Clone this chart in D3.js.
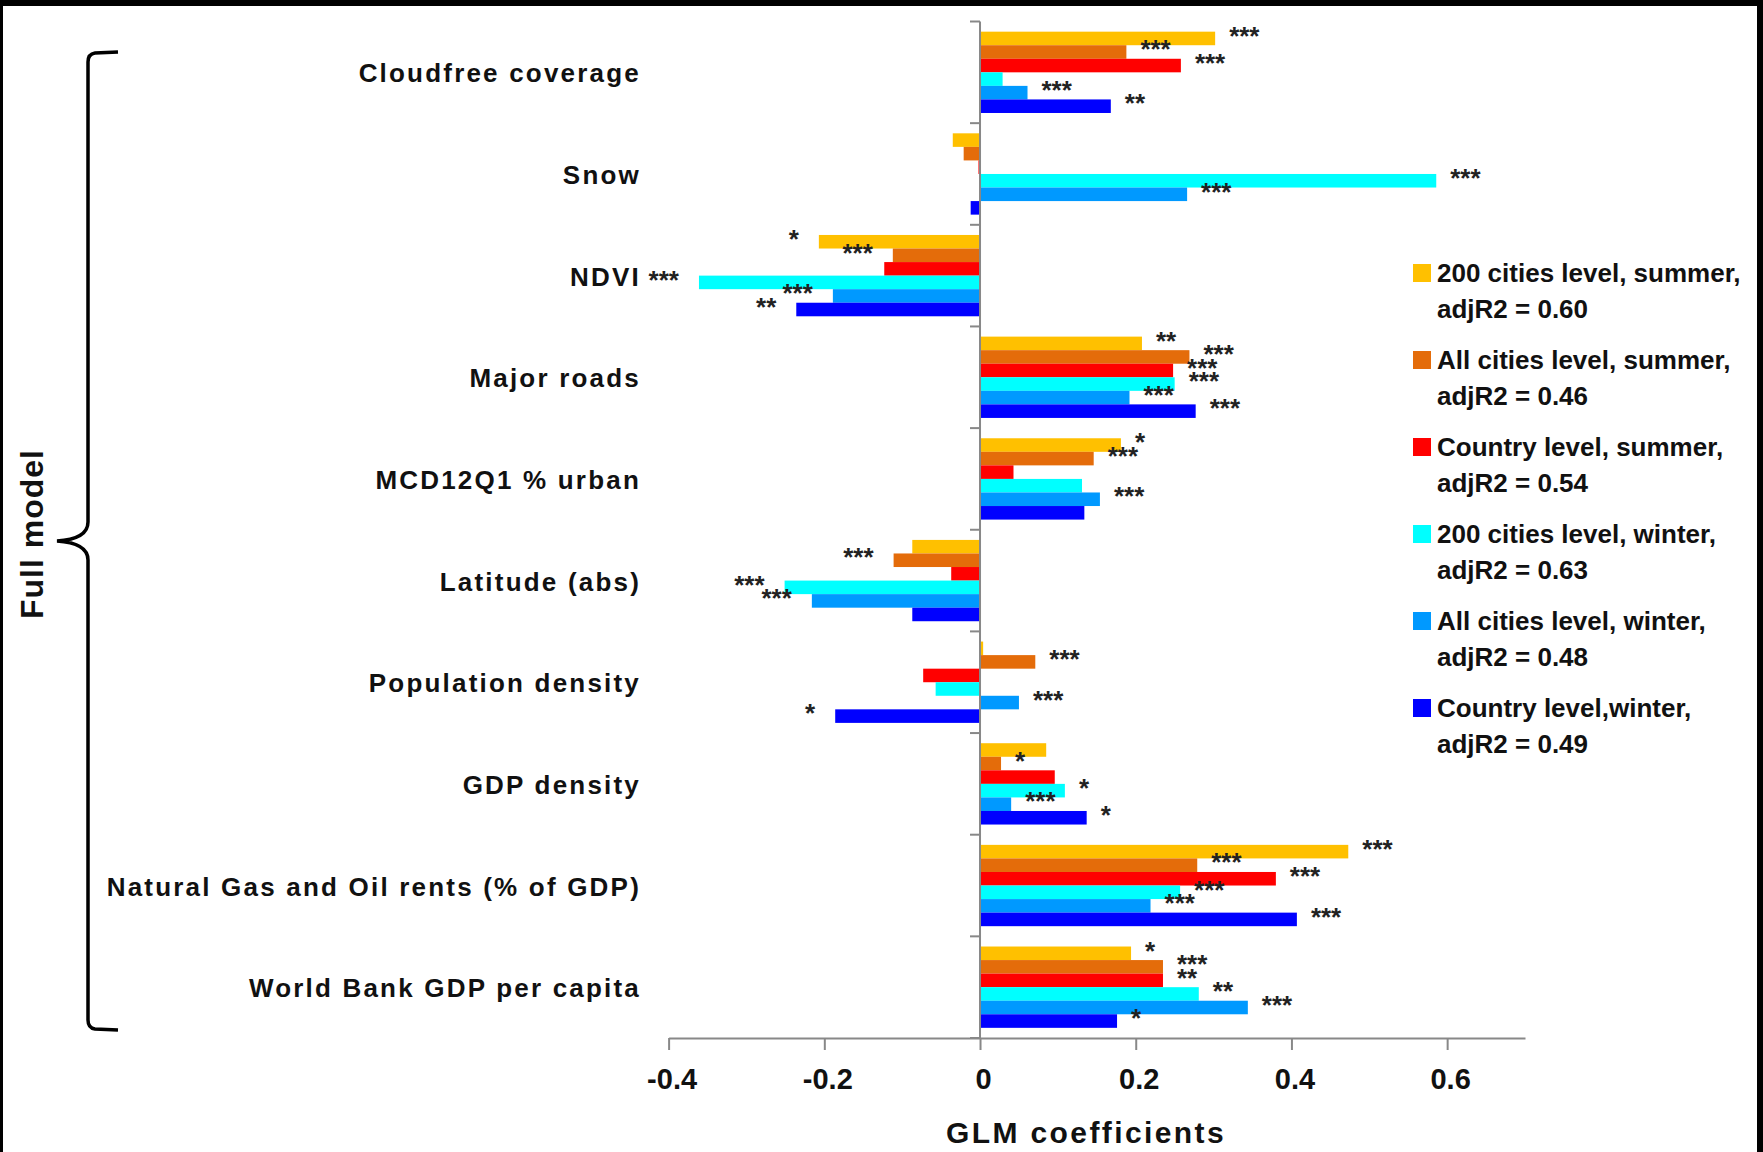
<!DOCTYPE html>
<html>
<head>
<meta charset="utf-8">
<script src="https://cdn.jsdelivr.net/npm/d3@7"></script>
<style>
  html, body { margin: 0; padding: 0; background: #000; }
  svg { display: block; }
  text { font-family: "Liberation Sans", Arial, sans-serif; font-weight: bold; fill: #111; }
</style>
</head>
<body>
<div id="chart"></div>
<script>
// categories, top to bottom
var categories = ["Cloudfree coverage", "Snow", "NDVI", "Major roads", "MCD12Q1 % urban",
  "Latitude (abs)", "Population density", "GDP density",
  "Natural Gas and Oil rents (% of GDP)", "World Bank GDP per capita"];

// GLM coefficients per model (same order as categories)
var cities200Summer = [0.302, -0.035, -0.207, 0.208, 0.181, -0.087, 0.004, 0.085, 0.473, 0.194];
var allCitiesSummer = [0.188, -0.021, -0.112, 0.269, 0.146, -0.111, 0.071, 0.027, 0.279, 0.235];
var countrySummer   = [0.258, -0.002, -0.123, 0.248, 0.043, -0.037, -0.073, 0.096, 0.380, 0.235];
var cities200Winter = [0.029, 0.586, -0.361, 0.250, 0.131, -0.251, -0.057, 0.109, 0.257, 0.281];
var allCitiesWinter = [0.061, 0.266, -0.189, 0.192, 0.154, -0.216, 0.050, 0.040, 0.219, 0.344];
var countryWinter   = [0.168, -0.012, -0.236, 0.277, 0.134, -0.087, -0.186, 0.137, 0.407, 0.176];

// significance stars
var sig200Summer     = ["***", "", "*", "**", "*", "", "", "", "***", "*"];
var sigAllSummer     = ["***", "", "***", "***", "***", "***", "***", "*", "***", "***"];
var sigCountrySummer = ["***", "", "", "***", "", "", "", "", "***", "**"];
var sig200Winter     = ["", "***", "***", "***", "", "***", "", "*", "***", "**"];
var sigAllWinter     = ["***", "***", "***", "***", "***", "***", "***", "***", "***", "***"];
var sigCountryWinter = ["**", "", "**", "***", "", "", "*", "*", "***", "*"];

var seriesKeys = ["200s", "alls", "cs", "200w", "allw", "cw"];
var legendLine1 = ["200 cities level, summer,", "All cities level, summer,", "Country level, summer,",
  "200 cities level, winter,", "All cities level, winter,", "Country level,winter,"];
var legendLine2 = ["adjR2 = 0.60", "adjR2 = 0.46", "adjR2 = 0.54", "adjR2 = 0.63", "adjR2 = 0.48", "adjR2 = 0.49"];
var colors = ["#FFC000", "#E46C0A", "#FF0000", "#00FFFF", "#0099FF", "#0000FF"];
var xTicks = [-0.4, -0.2, 0, 0.2, 0.4, 0.6];

var values = [cities200Summer, allCitiesSummer, countrySummer, cities200Winter, allCitiesWinter, countryWinter];
var sigs = [sig200Summer, sigAllSummer, sigCountrySummer, sig200Winter, sigAllWinter, sigCountryWinter];

var data = [];
categories.forEach(function(c, i) {
  seriesKeys.forEach(function(k, j) {
    data.push({cat: c, key: k, s: j, value: values[j][i], sig: sigs[j][i]});
  });
});

var W = 1763, H = 1152;
var svg = d3.select("#chart").append("svg").attr("width", W).attr("height", H);

// frame: black edges (top / right / left) around white page
svg.append("rect").attr("x", 0).attr("y", 0).attr("width", W).attr("height", H).attr("fill", "#000");
svg.append("rect").attr("x", 3).attr("y", 6).attr("width", 1754).attr("height", H - 6).attr("fill", "#fff");

var x = d3.scaleLinear().domain([-0.4, 0.7]).range([668.6, 1525]);
var y = d3.scaleBand().domain(categories).range([21.5, 1038]).padding(0);
var step = y.step();
var y1 = d3.scaleBand().domain(seriesKeys).range([step * 0.1, step * 0.9]).padding(0);

var x0 = x(0), axisY = y.range()[1];

// bars
svg.append("g").selectAll("rect")
  .data(data)
  .enter().append("rect")
  .attr("x", function(d) { return Math.min(x(d.value), x0); })
  .attr("y", function(d) { return y(d.cat) + y1(d.key); })
  .attr("width", function(d) { return Math.abs(x(d.value) - x0); })
  .attr("height", y1.bandwidth())
  .attr("fill", function(d) { return colors[d.s]; });

// star labels (centered on the top edge of their bar)
svg.append("g").selectAll("text")
  .data(data.filter(function(d) { return d.sig != ""; }))
  .enter().append("text")
  .attr("x", function(d) { return d.value >= 0 ? x(d.value) + 14 : x(d.value) - 20; })
  .attr("y", function(d) { return y(d.cat) + y1(d.key) + 13; })
  .attr("text-anchor", function(d) { return d.value >= 0 ? "start" : "end"; })
  .style("font-size", "26px")
  .style("fill", "#222")
  .text(function(d) { return d.sig; });

// x axis
var xAxis = d3.axisBottom(x)
  .tickValues(xTicks)
  .tickSize(12)
  .tickSizeOuter(0)
  .tickFormat(function(d) { return d === 0 ? "0" : d.toFixed(1); });

var gx = svg.append("g").attr("transform", "translate(0," + axisY + ")").call(xAxis);
gx.select(".domain").attr("stroke", "#888").attr("stroke-width", 2);
gx.selectAll(".tick line").attr("stroke", "#888").attr("stroke-width", 2);
gx.selectAll(".tick text")
  .attr("y", 51).attr("dy", 0).attr("dx", 3)
  .style("font-size", "29px")
  .style("font-family", "'Liberation Sans', Arial, sans-serif")
  .style("font-weight", "bold")
  .attr("fill", "#111");

// vertical zero axis with category boundary ticks
svg.append("line")
  .attr("x1", x0).attr("x2", x0)
  .attr("y1", y.range()[0]).attr("y2", axisY)
  .attr("stroke", "#888").attr("stroke-width", 2);
var bounds = categories.map(function(c) { return y(c); }).concat([axisY]);
svg.append("g").selectAll("line")
  .data(bounds)
  .enter().append("line")
  .attr("x1", x0 - 10).attr("x2", x0)
  .attr("y1", function(d) { return d; }).attr("y2", function(d) { return d; })
  .attr("stroke", "#888").attr("stroke-width", 2);

// category labels
svg.append("g").selectAll("text")
  .data(categories)
  .enter().append("text")
  .attr("x", 641)
  .attr("y", function(d) { return y(d) + step / 2 + 10; })
  .attr("text-anchor", "end")
  .style("font-size", "26px")
  .style("letter-spacing", "2.2px")
  .text(function(d) { return d; });

// axis title
svg.append("text")
  .attr("x", 1086).attr("y", 1143)
  .attr("text-anchor", "middle")
  .style("font-size", "30px")
  .style("letter-spacing", "2.4px")
  .text("GLM coefficients");

// curly bracket + "Full model"
svg.append("path")
  .attr("d", "M118,52 L95,53 Q88,54 88,62 L88,522 Q88,539 57,541 Q88,543 88,560 L88,1020 Q88,1028 95,1029 L118,1030")
  .attr("fill", "none")
  .attr("stroke", "#000")
  .attr("stroke-width", 3.5);

svg.append("text")
  .attr("transform", "translate(43,534) rotate(-90)")
  .attr("text-anchor", "middle")
  .style("font-size", "32px")
  .style("letter-spacing", "1px")
  .text("Full model");

// legend
var legend = svg.append("g").selectAll("g")
  .data(seriesKeys)
  .enter().append("g")
  .attr("transform", function(d, i) { return "translate(1413," + (264 + i * 87) + ")"; });

legend.append("rect")
  .attr("width", 18).attr("height", 18)
  .attr("fill", function(d, i) { return colors[i]; });
legend.append("text")
  .attr("x", 24).attr("y", 18)
  .style("font-size", "26px")
  .text(function(d, i) { return legendLine1[i]; });
legend.append("text")
  .attr("x", 24).attr("y", 53.5)
  .style("font-size", "26px")
  .text(function(d, i) { return legendLine2[i]; });
</script>
</body>
</html>
